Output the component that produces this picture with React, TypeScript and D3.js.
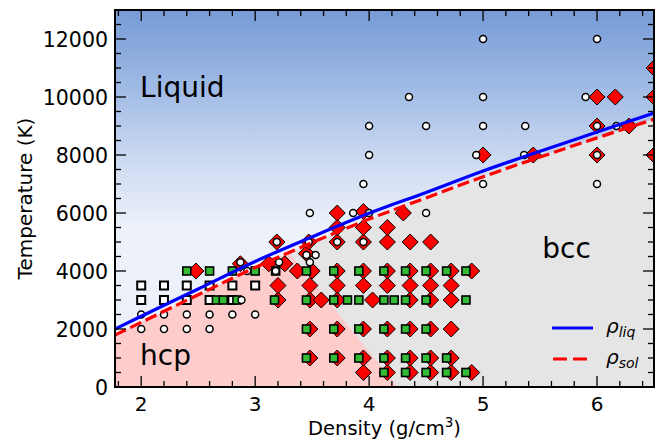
import React from "react";
import * as d3 from "d3";

// ---- data ----
const liqDensity = [1.77, 2.0, 2.5, 3.0, 3.5, 4.0, 4.5, 5.0, 5.5, 6.0, 6.5];
const liqTemp = [2000, 2440, 3380, 4330, 5180, 5990, 6710, 7450, 8130, 8790, 9450];
const solTemp = [1790, 2230, 3180, 4120, 4980, 5790, 6520, 7250, 7930, 8590, 9230];

// hcp/bcc boundary: [density, temperature]
const boundaryDensity = [4.25, 3.3];
const boundaryTemp = [0, 4620];

const circleD = [2.0, 2.2, 2.4, 2.6, 2.8, 3.0, 2.0, 2.2, 2.4, 2.6, 2.88, 2.87, 2.93, 3.21, 3.18, 3.19, 3.45, 3.53, 3.48, 3.47, 3.72, 3.95, 3.48, 3.86, 4.0, 4.5, 3.95, 4.0, 4.0, 4.35, 4.5, 5.0, 5.0, 5.0, 4.94, 5.0, 5.37, 5.36, 6.0, 5.9, 6.0, 6.17, 6.0, 6.0];
const circleT = [2500, 2500, 2500, 2500, 2500, 2500, 2000, 2000, 2000, 2000, 3000, 4300, 4000, 4300, 4000, 5000, 4550, 4550, 4300, 5000, 5000, 5000, 6000, 6000, 6000, 6000, 7000, 8000, 9000, 10000, 9000, 12000, 10000, 9000, 8000, 7000, 9000, 8000, 12000, 10000, 9000, 9000, 8000, 7000];

const openSqD = [2.0, 2.2, 2.4, 2.6, 2.8, 3.0, 2.0, 2.2, 2.4, 2.6, 2.8];
const openSqT = [3500, 3500, 3500, 3500, 3500, 3500, 3000, 3000, 3000, 3000, 3000];

const greenD = [
  2.4, 2.6, 2.8, 3.0, 3.18, 3.45, 3.69, 3.91, 4.13, 4.32, 4.5, 4.68, 4.85,
  2.66, 2.72, 2.84, 3.17, 3.45, 3.69, 3.81, 3.91, 4.13, 4.22, 4.32, 4.5, 4.85,
  3.45, 3.69, 3.91, 4.13, 4.32, 4.5,
  3.45, 3.69, 3.91, 4.13, 4.32, 4.5, 4.68,
  4.13, 4.32, 4.5, 4.68, 4.85,
];
const greenT = [
  4000, 4000, 4000, 4000, 4000, 4000, 4000, 4000, 4000, 4000, 4000, 4000, 4000,
  3000, 3000, 3000, 3000, 3000, 3000, 3000, 3000, 3000, 3000, 3000, 3000, 3000,
  2000, 2000, 2000, 2000, 2000, 2000,
  1000, 1000, 1000, 1000, 1000, 1000, 1000,
  500, 500, 500, 500, 500,
];

const diamondD = [
  3.95, 4.16, 4.36, 4.54, 4.72, 4.9,
  3.48, 3.72, 3.95, 4.16, 4.36, 4.54, 4.72,
  3.48, 3.72, 3.95, 4.16, 4.36, 4.54, 4.72,
  3.2, 3.48, 3.58, 3.72, 4.03, 4.36, 4.54, 4.72,
  3.2, 3.48, 3.72, 3.95, 4.16, 4.36, 4.54, 4.72,
  2.48, 3.37, 3.5, 3.72, 3.95, 4.16, 4.36, 4.54, 4.72, 4.9,
  2.87, 3.12, 3.26, 3.45,
  3.19, 3.47, 3.72, 3.95, 4.16, 4.36, 4.54,
  3.72, 3.95, 4.16,
  3.72, 3.95, 4.3,
  5.0, 5.44, 6.0, 6.5,
  6.0, 6.28,
  6.0, 6.16, 6.5,
  6.5,
];
const diamondT = [
  500, 500, 500, 500, 500, 500,
  1000, 1000, 1000, 1000, 1000, 1000, 1000,
  2000, 2000, 2000, 2000, 2000, 2000, 2000,
  3000, 3000, 3000, 3000, 3000, 3000, 3000, 3000,
  3500, 3500, 3500, 3500, 3500, 3500, 3500, 3500,
  4000, 4000, 4000, 4000, 4000, 4000, 4000, 4000, 4000, 4000,
  4250, 4250, 4250, 4600,
  5000, 5000, 5000, 5000, 5000, 5000, 5000,
  5500, 5500, 5500,
  6000, 6050, 6000,
  8000, 8000, 8000, 8000,
  9000, 9000,
  10000, 10000, 10000,
  11000,
];

const xTicks = [2, 3, 4, 5, 6];
const yTicks = [0, 2000, 4000, 6000, 8000, 10000, 12000];

// ---- layout ----
const W = 670, H = 443;
const L = 115, R = 654, T = 10, B = 387;
const FONT = "DejaVu Sans, sans-serif";

export default function App() {
  const x = d3.scaleLinear().domain([1.77, 6.5]).range([L, R]);
  const y = d3.scaleLinear().domain([0, 13000]).range([B, T]);

  const liqPts = liqDensity.map((d, i) => [d, liqTemp[i]] as [number, number]);
  const solPts = liqDensity.map((d, i) => [d, solTemp[i]] as [number, number]);

  const line = d3.line<[number, number]>().x(p => x(p[0])).y(p => y(p[1])).curve(d3.curveMonotoneX);
  const area = d3.area<[number, number]>().x(p => x(p[0])).y0(y(0)).y1(p => y(p[1])).curve(d3.curveMonotoneX);

  const slope = (boundaryDensity[1] - boundaryDensity[0]) / (boundaryTemp[1] - boundaryTemp[0]);
  const topD = boundaryDensity[0] + slope * (13000 - boundaryTemp[0]);
  const pinkPoly = [
    [1.7, 0], [boundaryDensity[0], 0], [topD, 13000], [1.7, 13000],
  ].map(p => `${x(p[0])},${y(p[1])}`).join(" ");

  const xMinor = d3.range(1.8, 6.5, 0.2).filter(v => Math.abs(v - Math.round(v)) > 1e-6);
  const yMinor = d3.range(500, 13000, 500).filter(v => v % 2000 !== 0);

  const MAJ = 11, MIN = 6;
  const diamond = "M0,-8L8,0L0,8L-8,0Z";

  return (
    <svg width={W} height={H} style={{ position: "absolute", left: 0, top: 0 }} fontFamily={FONT}>
      <defs>
        <linearGradient id="liqGrad" gradientUnits="userSpaceOnUse" x1={0} y1={T} x2={0} y2={B}>
          <stop offset="0" stopColor="rgb(118,155,214)" />
          <stop offset="0.21" stopColor="rgb(160,187,229)" />
          <stop offset="0.40" stopColor="rgb(205,218,241)" />
          <stop offset="0.57" stopColor="rgb(236,241,250)" />
          <stop offset="1" stopColor="rgb(236,240,248)" />
        </linearGradient>
        <clipPath id="plotClip">
          <rect x={L} y={T} width={R - L} height={B - T} />
        </clipPath>
        <clipPath id="solidClip">
          <path d={area(solPts) || ""} />
        </clipPath>
      </defs>
      <rect x={0} y={0} width={W} height={H} fill="white" />
      <rect x={L} y={T} width={R - L} height={B - T} fill="url(#liqGrad)" />
      <g clipPath="url(#solidClip)">
        <rect x={L} y={T} width={R - L} height={B - T} fill="#e5e5e5" />
        <polygon points={pinkPoly} fill="#ffcccc" />
      </g>

      <g clipPath="url(#plotClip)">
        {diamondD.map((d, i) => (
          <path key={"d" + i} d={diamond} transform={`translate(${x(d)},${y(diamondT[i])})`} fill="#ff0000" stroke="#000" strokeWidth={1} />
        ))}
        {openSqD.map((d, i) => (
          <rect key={"o" + i} x={x(d) - 4} y={y(openSqT[i]) - 4} width={8} height={8} fill="#fff" stroke="#000" strokeWidth={2} />
        ))}
        {greenD.map((d, i) => (
          <rect key={"g" + i} x={x(d) - 4} y={y(greenT[i]) - 4} width={8} height={8} fill="#33bb33" stroke="#000" strokeWidth={1.6} />
        ))}
        {circleD.map((d, i) => (
          <circle key={"c" + i} cx={x(d)} cy={y(circleT[i])} r={3.5} fill="#fff" stroke="#000" strokeWidth={1.5} />
        ))}
        <path d={line(liqPts) || ""} fill="none" stroke="#0000ff" strokeWidth={3.2} />
        <path d={line(solPts) || ""} fill="none" stroke="#ff0000" strokeWidth={3.2} strokeDasharray="12,5" />
      </g>

      <g stroke="#000" strokeWidth={1.3}>
        {xTicks.map(v => (
          <g key={"xt" + v}>
            <line x1={x(v)} x2={x(v)} y1={B} y2={B - MAJ} />
            <line x1={x(v)} x2={x(v)} y1={T} y2={T + MAJ} />
          </g>
        ))}
        {xMinor.map(v => (
          <g key={"xm" + v}>
            <line x1={x(v)} x2={x(v)} y1={B} y2={B - MIN} />
            <line x1={x(v)} x2={x(v)} y1={T} y2={T + MIN} />
          </g>
        ))}
        {yTicks.map(v => (
          <g key={"yt" + v}>
            <line x1={L} x2={L + MAJ} y1={y(v)} y2={y(v)} />
            <line x1={R} x2={R - MAJ} y1={y(v)} y2={y(v)} />
          </g>
        ))}
        {yMinor.map(v => (
          <g key={"ym" + v}>
            <line x1={L} x2={L + MIN} y1={y(v)} y2={y(v)} />
            <line x1={R} x2={R - MIN} y1={y(v)} y2={y(v)} />
          </g>
        ))}
      </g>
      <rect x={L} y={T} width={R - L} height={B - T} fill="none" stroke="#000" strokeWidth={2} />

      {xTicks.map(v => (
        <text key={"xl" + v} x={x(v)} y={B + 24} textAnchor="middle" fontSize={20} fill="#000">{v}</text>
      ))}
      {yTicks.map(v => (
        <text key={"yl" + v} x={L - 7} y={y(v) + 7.5} textAnchor="end" fontSize={20.5} fill="#000">{v}</text>
      ))}

      <text x={(L + R) / 2} y={435} textAnchor="middle" fontSize={19.5} fill="#000">
        Density (g/cm<tspan fontSize={13.5} dy={-8}>3</tspan><tspan dy={8}>)</tspan>
      </text>
      <text transform={`translate(32,${(T + B) / 2}) rotate(-90)`} textAnchor="middle" fontSize={20} fill="#000">Temperature (K)</text>

      <text x={x(1.99)} y={y(10000)} fontSize={28} fill="#000">Liquid</text>
      <text x={x(1.99)} y={y(750)} fontSize={28} fill="#000">hcp</text>
      <text x={x(5.52)} y={y(4450)} fontSize={28} fill="#000">bcc</text>

      <line x1={552} x2={593} y1={328} y2={328} stroke="#0000ff" strokeWidth={3.2} />
      <line x1={553} x2={593} y1={359} y2={359} stroke="#ff0000" strokeWidth={3.2} strokeDasharray="14,6" />
      <text x={606} y={333} fontSize={20} fontStyle="italic" fill="#000">
        ρ<tspan fontSize={14} dy={4}>liq</tspan>
      </text>
      <text x={606} y={364} fontSize={20} fontStyle="italic" fill="#000">
        ρ<tspan fontSize={14} dy={4}>sol</tspan>
      </text>
    </svg>
  );
}
